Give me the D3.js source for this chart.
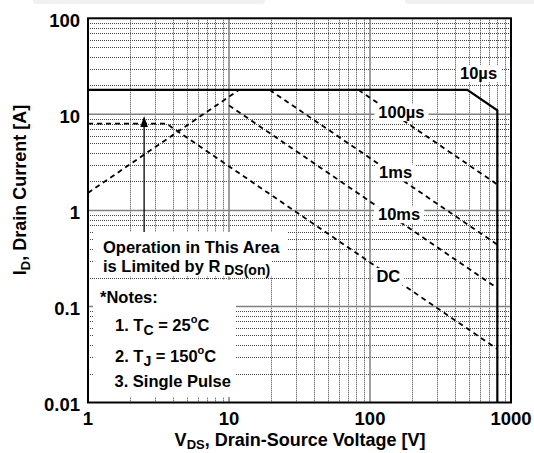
<!DOCTYPE html>
<html><head><meta charset="utf-8">
<script src="https://cdn.jsdelivr.net/npm/d3@7"></script>
<style>
body{margin:0;background:#fff}
svg{display:block}
text{font-family:"Liberation Sans",Arial,sans-serif;font-weight:bold;fill:#000}
</style>
</head><body>
<svg id="c" width="534" height="453"></svg>
<script>
// ---------- data ----------
const xTicks = [1, 10, 100, 1000];
const xTickLabels = ["1", "10", "100", "1000"];
const yTicks = [0.01, 0.1, 1, 10, 100];
const yTickLabels = ["0.01", "0.1", "1", "10", "100"];

// [V, A] points
const limit10us = [[1, 18], [490, 18], [800, 11], [800, 0.01]];
const rdsLimit  = [[1, 1.52], [11.8, 18]];
const line100us = [[82.8, 18], [800, 1.86]];
const line1ms   = [[19.4, 18], [800, 0.44]];
const line10ms  = [[10, 12.4], [800, 0.155]];
const lineDC    = [[1, 8], [3.6, 8], [800, 0.036]];

const curveLabels = ["10µs", "100µs", "1ms", "10ms", "DC"];
const curveLabelV = [435, 114.5, 116, 114, 111];
const curveLabelI = [23.2, 9.14, 2.15, 0.79, 0.18];

const arrowV = 2.5;
const arrowI = [0.5, 9.6];

// ---------- chart ----------
const W = 534, H = 453;
const m = {l: 88, r: 511, t: 18.3, b: 402.5};
const x = d3.scaleLog().domain([1, 1000]).range([m.l, m.r]);
const y = d3.scaleLog().domain([0.01, 100]).range([m.b, m.t]);
const svg = d3.select("#c");

svg.append("rect").attr("width", W).attr("height", H).attr("fill", "#fff");
// faint strip at top of the picture
svg.append("rect").attr("x", 33).attr("y", -3).attr("width", 232).attr("height", 7).attr("rx", 3).attr("fill", "#f1f1f1");
svg.append("rect").attr("x", 405).attr("y", -3).attr("width", 140).attr("height", 7).attr("rx", 3).attr("fill", "#f1f1f1");

const isMajor = v => Math.abs(Math.log10(v) - Math.round(Math.log10(v))) < 1e-9;
const px = v => Math.round(v) + 0.5;

const grid = svg.append("g");
// minor dotted grid
x.ticks().filter(v => !isMajor(v)).forEach(v => {
  grid.append("line").attr("x1", px(x(v))).attr("x2", px(x(v)))
    .attr("y1", m.t).attr("y2", m.b)
    .attr("stroke", "#444").attr("stroke-width", 1).attr("stroke-dasharray", "1,1");
});
y.ticks().filter(v => !isMajor(v)).forEach(v => {
  grid.append("line").attr("y1", px(y(v))).attr("y2", px(y(v)))
    .attr("x1", m.l).attr("x2", m.r)
    .attr("stroke", "#444").attr("stroke-width", 1).attr("stroke-dasharray", "1,1");
});
// major grid
xTicks.slice(1, -1).forEach(v => {
  grid.append("line").attr("x1", x(v)).attr("x2", x(v)).attr("y1", m.t).attr("y2", m.b)
    .attr("stroke", "#808080").attr("stroke-width", 1.5);
});
yTicks.slice(1, -1).forEach(v => {
  grid.append("line").attr("y1", y(v)).attr("y2", y(v)).attr("x1", m.l).attr("x2", m.r)
    .attr("stroke", "#808080").attr("stroke-width", 1.5);
});

// series
const line = d3.line().x(d => x(d[0])).y(d => y(d[1]));
[line100us, line1ms, line10ms, lineDC, rdsLimit].forEach(s => {
  svg.append("path").attr("d", line(s)).attr("fill", "none")
    .attr("stroke", "#000").attr("stroke-width", 1.8).attr("stroke-dasharray", "5,4");
});
svg.append("path").attr("d", line(limit10us)).attr("fill", "none")
  .attr("stroke", "#000").attr("stroke-width", 2.2);

// arrow
const ax = x(arrowV), ay0 = y(arrowI[0]), ay1 = y(arrowI[1]);
svg.append("line").attr("x1", ax).attr("x2", ax).attr("y1", ay0).attr("y2", ay1 + 8)
  .attr("stroke", "#000").attr("stroke-width", 1.3);
svg.append("path").attr("d", `M${ax},${ay1} L${ax - 3.8},${ay1 + 11} L${ax + 3.8},${ay1 + 11} Z`).attr("fill", "#000");

// white backgrounds for notes
const bg = svg.append("g");
const tg = svg.append("g");

function rich(parent, tx, ty, parts, size) {
  const t = parent.append("text").attr("x", tx).attr("y", ty).style("font-size", size + "px");
  let cur = 0;
  parts.forEach(p => {
    const s = t.append("tspan").text(p.t);
    let off = p.sub ? p.sub : (p.sup ? -p.sup : 0);
    s.attr("dy", off - cur);
    cur = off;
    if (p.size) s.style("font-size", p.size + "px");
  });
  return t;
}

// notes box
bg.append("rect").attr("x", 93).attr("y", 280).attr("width", 236 - 93).attr("height", 397 - 280).attr("fill", "#fff");
const n1 = rich(tg, 103, 253, [{t: "Operation in This Area"}], 16.5);
const n2 = rich(tg, 103, 271.7, [{t: "is Limited by R"}, {t: " DS(on)", size: 14, sub: 3.5}], 16.5);
let b1 = n1.node().getBBox();
bg.append("rect").attr("x", 93).attr("y", 232).attr("width", b1.x + b1.width + 7 - 93).attr("height", 25).attr("fill", "#fff");
let b2 = n2.node().getBBox();
bg.append("rect").attr("x", 93).attr("y", 256.5).attr("width", b2.x + b2.width + 2 - 93).attr("height", 20).attr("fill", "#fff");

rich(tg, 100, 303, [{t: "*Notes:"}], 16.5);
rich(tg, 115, 331, [{t: "1. T"}, {t: "C", size: 14, sub: 4}, {t: " = 25"}, {t: "o", size: 11, sup: 8}, {t: "C"}], 16.5);
rich(tg, 115, 361.7, [{t: "2. T"}, {t: "J", size: 14, sub: 4}, {t: " = 150"}, {t: "o", size: 11, sup: 8}, {t: "C"}], 16.5);
rich(tg, 114.5, 387, [{t: "3. Single Pulse"}], 16.5);

// curve labels
curveLabels.forEach((lab, i) => {
  const t = tg.append("text").attr("x", x(curveLabelV[i])).attr("y", y(curveLabelI[i]))
    .style("font-size", "16.5px").text(lab);
  const b = t.node().getBBox();
  bg.append("rect").attr("x", b.x - 4).attr("y", b.y + 1).attr("width", b.width + 8).attr("height", b.height - 1)
    .attr("fill", "#fff");
});

// border
svg.append("rect").attr("x", m.l).attr("y", m.t).attr("width", m.r - m.l).attr("height", m.b - m.t)
  .attr("fill", "none").attr("stroke", "#000").attr("stroke-width", 2);

// tick labels
xTicks.forEach((v, i) => {
  svg.append("text").attr("x", x(v)).attr("y", 425).attr("text-anchor", "middle")
    .style("font-size", "18.5px").text(xTickLabels[i]);
});
yTicks.forEach((v, i) => {
  svg.append("text").attr("x", 80).attr("y", y(v) + 8.5).attr("text-anchor", "end")
    .style("font-size", "18.5px").text(yTickLabels[i]);
});

// axis titles
rich(svg, 300, 446, [{t: "V"}, {t: "DS", size: 13, sub: 3}, {t: ", Drain-Source Voltage [V]"}], 18)
  .attr("text-anchor", "middle");
rich(svg, 0, 0, [{t: "I"}, {t: "D", size: 13, sub: 4}, {t: ", Drain Current [A]"}], 18)
  .attr("text-anchor", "middle").attr("transform", "translate(26,190) rotate(-90)");
</script>
</body></html>
